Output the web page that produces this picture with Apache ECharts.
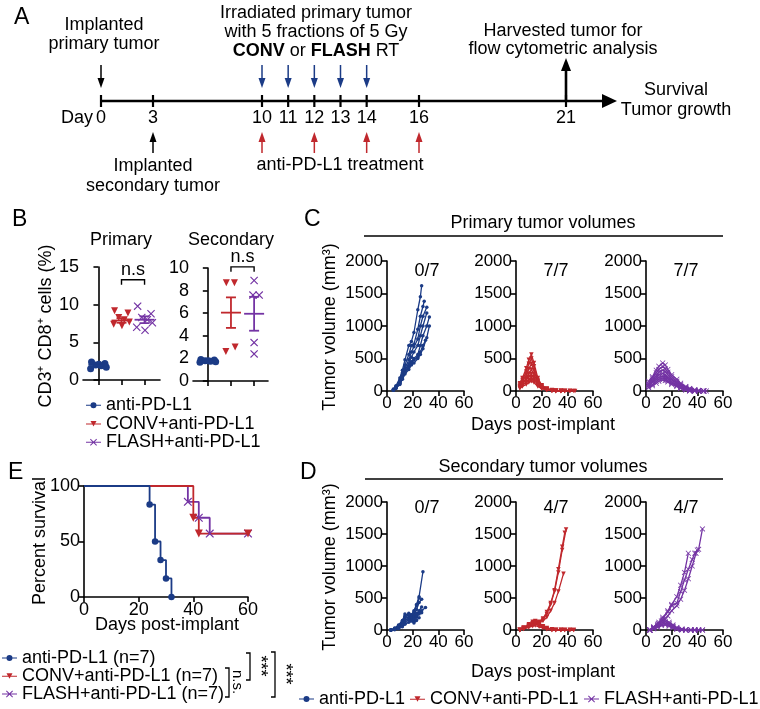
<!DOCTYPE html>
<html>
<head>
<meta charset="utf-8">
<script src="https://cdn.jsdelivr.net/npm/echarts@6/dist/echarts.min.js"></script>
<style>
  html, body { margin: 0; padding: 0; background: #fff; }
  #main { width: 760px; height: 709px; }
</style>
</head>
<body>
<div id="main"></div>
<script>
var FONT = '"Liberation Sans", Arial, Helvetica, sans-serif';
var BLUE = '#1b3b86', RED = '#c0282d', PURPLE = '#7434a4';

// ---- panel A: schedule (days)
var timelineDays = [0, 3, 10, 11, 12, 13, 14, 16, 21];
var primaryImplantDays = [0];
var secondaryImplantDays = [3];
var rtDays = [10, 11, 12, 13, 14];
var pdl1Days = [10, 12, 14, 16];
var harvestDays = [21];

// ---- panel B: CD3+ CD8+ cells (%)
var b1Anti = [2.4, 2.2, 2.0, 1.9, 1.7, 1.5, 2.1];
var b1Conv = [9.2, 8.9, 8.3, 8.0, 7.7, 7.4, 7.2];
var b1Flash = [9.8, 8.8, 8.3, 8.0, 7.6, 7.0, 6.6];
var b1Means = [2.0, 7.9, 8.0];
var b1Sems = [0.12, 0.3, 0.45];
var b2Anti = [1.9, 1.85, 1.8, 1.75, 1.7, 1.65, 1.8];
var b2Conv = [8.7, 8.7, 2.6, 3.0];
var b2Flash = [8.9, 7.6, 7.6, 3.4, 2.4];
var b2Means = [1.75, 6.05, 5.95];
var b2Sems = [0.05, 1.35, 1.5];
var b1Bracket = 13.3, b2Bracket = 10.1;

// ---- panel C: primary tumor volumes, [day, mm3] per mouse
var primAnti = [
  [[5,30],[7,80],[10,200],[12,320],[14,480],[17,700],[19,760],[21,900],[24,1250],[26,1450],[27,1620]],
  [[5,20],[7,60],[10,160],[12,280],[14,400],[17,560],[19,700],[21,720],[24,950],[26,1150],[28,1300],[29,1380]],
  [[5,25],[7,70],[10,150],[12,250],[14,350],[17,480],[19,600],[21,680],[24,800],[26,1000],[28,1150],[31,1290]],
  [[5,15],[7,50],[10,120],[12,220],[14,330],[17,420],[19,520],[21,600],[24,700],[26,850],[28,1000],[31,1200]],
  [[5,20],[7,55],[10,130],[12,200],[14,300],[17,380],[19,450],[21,500],[24,560],[26,700],[28,850],[31,1000],[33,1140]],
  [[5,10],[7,40],[10,100],[12,180],[14,260],[17,330],[19,420],[21,480],[24,520],[26,600],[28,700],[30,780]],
  [[5,15],[7,45],[10,110],[12,190],[14,280],[17,360],[19,400],[21,430],[24,500],[26,560],[28,650],[31,820],[33,1000]]
];
var primConv = [
  [[3,120],[5,200],[8,350],[10,480],[12,560],[14,430],[17,200],[20,90],[24,40],[28,15],[31,5],[35,0]],
  [[3,100],[5,170],[8,300],[10,420],[12,500],[14,380],[17,170],[20,80],[24,30],[28,10],[31,0],[35,0],[38,0]],
  [[3,80],[5,140],[8,250],[10,340],[12,420],[14,320],[17,150],[20,70],[24,30],[28,10],[31,5],[35,0],[38,0],[42,0],[45,0]],
  [[3,60],[5,110],[8,200],[10,270],[12,330],[14,260],[17,130],[20,60],[24,25],[28,10],[31,0]],
  [[3,70],[5,120],[8,180],[10,220],[12,260],[14,210],[17,110],[20,50],[24,20],[28,5],[31,0],[35,0],[38,0],[42,0],[46,0]],
  [[3,50],[5,90],[8,140],[10,170],[12,200],[14,170],[17,90],[20,40],[24,15],[28,5],[31,0],[35,0]],
  [[3,40],[5,70],[8,100],[10,130],[12,150],[14,130],[17,70],[20,35],[24,15],[28,5],[31,0],[35,0],[38,0],[42,0]]
];
var primFlash = [
  [[2,150],[5,220],[8,320],[10,380],[13,430],[15,400],[17,330],[20,250],[24,180],[27,120],[31,70],[34,40],[38,20],[41,10],[45,0]],
  [[2,120],[5,200],[8,280],[10,330],[13,380],[15,340],[17,290],[20,220],[24,150],[27,100],[31,60],[34,30],[38,10],[41,0],[45,0]],
  [[2,100],[5,170],[8,240],[10,290],[13,320],[15,300],[17,250],[20,190],[24,130],[27,80],[31,50],[34,30],[38,15],[41,5],[45,0],[47,0]],
  [[2,90],[5,150],[8,210],[10,250],[13,270],[15,250],[17,210],[20,170],[24,110],[27,70],[31,40],[34,20],[38,5],[41,0]],
  [[2,80],[5,130],[8,180],[10,210],[13,230],[15,220],[17,190],[20,140],[24,90],[27,60],[31,30],[34,10],[38,0],[41,0],[45,0]],
  [[2,60],[5,100],[8,150],[10,180],[13,200],[15,190],[17,160],[20,120],[24,80],[27,50],[31,20],[34,5],[38,0]],
  [[2,50],[5,80],[8,120],[10,150],[13,170],[15,160],[17,140],[20,100],[24,70],[27,40],[31,15],[34,0],[38,0],[41,0],[45,0]]
];

// ---- panel D: secondary tumor volumes
var secAnti = [
  [[3,0],[6,30],[9,80],[12,150],[14,220],[17,260],[19,240],[21,300],[23,400],[25,520],[28,910]],
  [[3,0],[6,20],[9,60],[12,130],[14,200],[17,240],[19,220],[21,280],[23,380],[25,500]],
  [[3,0],[6,25],[9,70],[12,140],[14,250],[17,230],[19,200],[21,240],[23,320],[25,430],[27,480]],
  [[3,0],[6,15],[9,50],[12,110],[14,180],[17,200],[19,170],[21,200],[23,260],[25,280],[27,300],[30,350]],
  [[3,0],[6,10],[9,40],[12,90],[14,150],[17,180],[19,190],[21,130],[23,200],[25,250],[27,270]],
  [[3,0],[6,10],[9,30],[12,70],[14,120],[17,160],[19,150],[21,170],[23,220],[25,300],[27,360]],
  [[3,0],[6,5],[9,20],[12,50],[14,90],[17,120],[19,140],[21,110],[23,150],[25,190]]
];
var secConv = [
  [[3,0],[6,30],[10,70],[13,110],[15,130],[18,120],[21,160],[24,250],[27,400],[30,600],[33,900],[36,1250],[39,1570]],
  [[3,0],[6,20],[10,60],[13,100],[15,110],[18,130],[21,180],[24,280],[27,420],[30,620],[33,950],[36,1300],[38,1520]],
  [[3,0],[6,15],[10,50],[13,80],[15,100],[18,110],[21,140],[24,200],[27,300],[30,420],[33,600],[37,880]],
  [[3,0],[6,40],[10,90],[13,130],[15,140],[18,100],[21,60],[24,30],[28,10],[31,0],[35,0],[38,0],[42,0],[45,0]],
  [[3,0],[6,30],[10,70],[13,100],[15,110],[18,80],[21,50],[24,20],[28,5],[31,0],[35,0],[38,0],[42,0]],
  [[3,0],[6,25],[10,60],[13,80],[15,90],[18,70],[21,40],[24,15],[28,0],[31,0],[35,0],[38,0],[42,0],[45,0]],
  [[3,0],[6,20],[10,40],[13,60],[15,70],[18,50],[21,30],[24,10],[28,0],[31,0],[35,0]]
];
var secFlash = [
  [[3,0],[6,40],[10,100],[13,150],[17,220],[20,300],[24,380],[27,480],[30,620],[33,800],[36,1000],[39,1200],[41,1260],[44,1580]],
  [[3,0],[6,50],[10,120],[13,200],[17,280],[20,380],[24,420],[27,600],[30,780],[33,950],[36,1100],[38,1200],[40,1250]],
  [[3,0],[6,30],[10,90],[13,170],[17,300],[20,400],[24,520],[27,700],[30,900],[33,1200]],
  [[3,0],[6,40],[9,90],[12,140],[15,160],[18,120],[21,80],[24,40],[28,15],[31,5],[35,0],[38,0],[41,0],[44,0]],
  [[3,0],[6,30],[9,70],[12,110],[15,130],[18,100],[21,60],[24,30],[28,10],[31,0],[35,0],[38,0],[41,0]],
  [[3,0],[6,25],[9,60],[12,90],[15,100],[18,80],[21,50],[24,20],[28,5],[31,0],[35,0],[38,0],[41,0],[44,0]],
  [[3,0],[6,20],[9,40],[12,70],[15,80],[18,60],[21,30],[24,10],[28,0],[31,0],[35,0],[38,0]]
];
var tumorFree = { primary: ['0/7', '7/7', '7/7'], secondary: ['0/7', '4/7', '4/7'] };

// ---- panel E: survival (%)
var survAnti = [[0,100],[24,83.3],[26,50],[28,33.3],[30,16.7],[32,0]];
var survConv = [[0,100],[40,71.4],[42,57.1],[60,57.1]];
var survFlash = [[0,100],[38,85.7],[42,71.4],[46,57.1],[60,57.1]];

var groupNames = ['anti-PD-L1', 'CONV+anti-PD-L1', 'FLASH+anti-PD-L1'];
var survNames = ['anti-PD-L1 (n=7)', 'CONV+anti-PD-L1 (n=7)', 'FLASH+anti-PD-L1 (n=7)'];
var colors = [BLUE, RED, PURPLE];

// ---------- layout helpers
// the schedule drawing is not to scale: piecewise map of day -> drawing units
var schematicBreaks = [[0,0],[3,52],[10,161],[16,318],[21,465]];
function toSchematic(d) {
  for (var i = 1; i < schematicBreaks.length; i++) {
    var a = schematicBreaks[i-1], b = schematicBreaks[i];
    if (d <= b[0]) return a[1] + (d - a[0]) * (b[1] - a[1]) / (b[0] - a[0]);
  }
  return schematicBreaks[schematicBreaks.length-1][1];
}
var jitB1 = [-0.3, 0.28, -0.12, 0.12, 0.34, -0.34, 0.02];
var jitB2 = [-0.2, 0.15, -0.22, 0.18, 0.05, -0.05, 0.1];
var jitB2f = [0, -0.05, 0.22, 0, 0];

var XSYM = 'path://M0,1L1,0L5,4L9,0L10,1L6,5L10,9L9,10L5,6L1,10L0,9L4,5Z';
var icons = [
  'path://M0,4H15V5H0Z M7.5,1.5A3,3 0 1 1 7.49,1.5Z',
  'path://M0,4H15V5H0Z M4.5,1.5H10.5L7.5,7Z',
  'path://M0,4H15V5H0Z M4,1.7L4.7,1L7.5,3.8L10.3,1L11,1.7L8.2,4.5L11,7.3L10.3,8L7.5,5.2L4.7,8L4,7.3L6.8,4.5Z'
];
var symbols = ['circle', 'triangle', XSYM];
var symRot = [0, 180, 0];

function font(size, weight) { return (weight ? weight + ' ' : '') + size + 'px ' + FONT; }
function txt(x, y, text, size, opts) {
  opts = opts || {};
  return {
    type: 'text', x: x, y: y, rotation: opts.rot || 0, silent: true,
    style: {
      text: text, fill: '#000', font: font(size, opts.weight),
      align: opts.align || 'center', verticalAlign: opts.va || 'middle',
      lineHeight: opts.lh, rich: opts.rich
    }
  };
}
function line(x1, y1, x2, y2, w) {
  return { type: 'line', silent: true, shape: { x1: x1, y1: y1, x2: x2, y2: y2 }, style: { stroke: '#000', lineWidth: w || 1.5 } };
}
function polyline(pts, w) {
  return { type: 'polyline', silent: true, shape: { points: pts }, style: { stroke: '#000', lineWidth: w || 1.5, fill: null } };
}

var axisLineStyle = { show: true, lineStyle: { color: '#000', width: 1.6 } };
function valAxis(grid, min, max, interval, labelSize, showLabel) {
  return {
    type: 'value', gridIndex: grid, min: min, max: max, interval: interval,
    axisLine: axisLineStyle,
    axisTick: { show: true, length: 5, lineStyle: { color: '#000', width: 1.6 } },
    axisLabel: { show: showLabel !== false, color: '#000', fontSize: labelSize, fontFamily: FONT, margin: 4,
      formatter: function (v) { return String(v); } },
    splitLine: { show: false }
  };
}

var grids = [
  { left: 101, top: 51, width: 516, height: 100 },   // 0 A
  { left: 83, top: 267, width: 77, height: 113 },    // 1 B primary
  { left: 193, top: 268, width: 75, height: 113 },   // 2 B secondary
  { left: 387, top: 261, width: 77, height: 130 },   // 3 C
  { left: 516, top: 261, width: 77, height: 130 },   // 4
  { left: 646, top: 261, width: 77, height: 130 },   // 5
  { left: 387, top: 502, width: 77, height: 128 },   // 6 D
  { left: 516, top: 502, width: 77, height: 128 },   // 7
  { left: 646, top: 502, width: 77, height: 128 },   // 8
  { left: 84, top: 486, width: 164, height: 111 }    // 9 E
];

var xAxes = [
  { type: 'value', gridIndex: 0, min: 0, max: 516, show: false },
  { type: 'value', gridIndex: 1, min: -0.67, max: 2.67, axisLine: axisLineStyle,
    axisTick: { show: true, customValues: [0, 1, 2], length: 5, lineStyle: { color: '#000', width: 1.6 } },
    axisLabel: { show: false }, splitLine: { show: false } },
  { type: 'value', gridIndex: 2, min: -0.64, max: 2.6, axisLine: axisLineStyle,
    axisTick: { show: true, customValues: [0, 1, 2], length: 5, lineStyle: { color: '#000', width: 1.6 } },
    axisLabel: { show: false }, splitLine: { show: false } }
];
var yAxes = [
  { type: 'value', gridIndex: 0, min: -50, max: 50, show: false },
  valAxis(1, 0, 15, 5, 18),
  valAxis(2, 0, 10, 2, 18)
];
for (var g = 3; g <= 8; g++) {
  xAxes.push(valAxis(g, 0, 60, 20, 17));
  yAxes.push(valAxis(g, 0, 2000, 500, 17));
}
xAxes.push(valAxis(9, 0, 60, 20, 18));
yAxes.push(valAxis(9, 0, 100, 50, 18));

var series = [];

// ---------- panel A
series.push({
  type: 'custom', xAxisIndex: 0, yAxisIndex: 0, silent: true, data: [[0]],
  renderItem: function (params, api) {
    var p = api.coord([api.value(0), 0]);
    var xEnd = params.coordSys.x + params.coordSys.width;
    return { type: 'group', children: [
      { type: 'line', shape: { x1: p[0], y1: p[1], x2: xEnd - 12, y2: p[1] }, style: { stroke: '#000', lineWidth: 2.6 } },
      { type: 'polygon', shape: { points: [[xEnd - 15, p[1] - 7], [xEnd, p[1]], [xEnd - 15, p[1] + 7]] }, style: { fill: '#000' } }
    ] };
  }
});
series.push({
  type: 'custom', xAxisIndex: 0, yAxisIndex: 0, silent: true,
  data: timelineDays.map(function (d) { return [toSchematic(d), d]; }),
  renderItem: function (params, api) {
    var p = api.coord([api.value(0), 0]);
    return { type: 'group', children: [
      { type: 'line', shape: { x1: p[0], y1: p[1] - 6, x2: p[0], y2: p[1] + 6 }, style: { stroke: '#000', lineWidth: 2.2 } },
      { type: 'text', style: { text: String(api.value(1)), x: p[0], y: p[1] + 17, fill: '#000', font: font(18), align: 'center', verticalAlign: 'middle' } }
    ] };
  }
});
function arrowSeries(days, color, from, to, lw, headLen, headW) {
  return {
    type: 'custom', xAxisIndex: 0, yAxisIndex: 0, silent: true,
    data: days.map(function (d) { return [toSchematic(d)]; }),
    renderItem: function (params, api) {
      var p = api.coord([api.value(0), 0]);
      var y1 = p[1] + from, y2 = p[1] + to;
      var dir = y2 > y1 ? 1 : -1;
      var yb = y2 - dir * headLen;
      return { type: 'group', children: [
        { type: 'line', shape: { x1: p[0], y1: y1, x2: p[0], y2: yb }, style: { stroke: color, lineWidth: lw } },
        { type: 'polygon', shape: { points: [[p[0] - headW / 2, yb], [p[0] + headW / 2, yb], [p[0], y2]] }, style: { fill: color } }
      ] };
    }
  };
}
series.push(arrowSeries(primaryImplantDays, '#000', -36, -13, 1.5, 10, 7));
series.push(arrowSeries(rtDays, BLUE, -36, -13, 1.5, 10, 7));
series.push(arrowSeries(secondaryImplantDays, '#000', 52, 31, 1.5, 10, 7));
series.push(arrowSeries(pdl1Days, RED, 52, 31, 1.5, 10, 7));
series.push(arrowSeries(harvestDays, '#000', 0, -43, 2.6, 13, 10));

// ---------- panel B
function scatterB(grid, vals, jit, k) {
  return {
    type: 'scatter', name: groupNames[k], xAxisIndex: grid, yAxisIndex: grid, silent: true,
    symbol: symbols[k], symbolRotate: symRot[k], symbolSize: [7, 7, 8][k],
    itemStyle: { color: colors[k], opacity: 1 },
    data: vals.map(function (v, i) { return [k + jit[i % jit.length], v]; })
  };
}
function meanSem(grid, means, sems) {
  return {
    type: 'custom', xAxisIndex: grid, yAxisIndex: grid, silent: true, z: 5,
    data: means.map(function (m, i) { return [i, m, sems[i]]; }),
    renderItem: function (params, api) {
      var i = api.value(0), m = api.value(1), s = api.value(2);
      var c = api.coord([i, m]), hi = api.coord([i, m + s]), lo = api.coord([i, m - s]);
      var st = { stroke: colors[i], lineWidth: 1.8 };
      return { type: 'group', children: [
        { type: 'line', shape: { x1: c[0] - 10, y1: c[1], x2: c[0] + 10, y2: c[1] }, style: st },
        { type: 'line', shape: { x1: c[0], y1: hi[1], x2: c[0], y2: lo[1] }, style: st },
        { type: 'line', shape: { x1: c[0] - 5, y1: hi[1], x2: c[0] + 5, y2: hi[1] }, style: st },
        { type: 'line', shape: { x1: c[0] - 5, y1: lo[1], x2: c[0] + 5, y2: lo[1] }, style: st }
      ] };
    }
  };
}
function bracket(grid, yv) {
  return {
    type: 'custom', xAxisIndex: grid, yAxisIndex: grid, silent: true, clip: false,
    data: [[1, 2, yv]],
    renderItem: function (params, api) {
      var a = api.coord([api.value(0), api.value(2)]), b = api.coord([api.value(1), api.value(2)]);
      return { type: 'group', children: [
        { type: 'polyline', shape: { points: [[a[0], a[1] + 5], [a[0], a[1]], [b[0], a[1]], [b[0], a[1] + 5]] }, style: { stroke: '#000', lineWidth: 1.4, fill: null } },
        { type: 'text', style: { text: 'n.s', x: (a[0] + b[0]) / 2, y: a[1] - 1, fill: '#000', font: font(18), align: 'center', verticalAlign: 'bottom' } }
      ] };
    }
  };
}
series.push(scatterB(1, b1Anti, jitB1, 0), scatterB(1, b1Conv, jitB1, 1), scatterB(1, b1Flash, jitB1, 2));
series.push(meanSem(1, b1Means, b1Sems), bracket(1, b1Bracket));
series.push(scatterB(2, b2Anti, jitB1, 0), scatterB(2, b2Conv, jitB2, 1), scatterB(2, b2Flash, jitB2f, 2));
series.push(meanSem(2, b2Means, b2Sems), bracket(2, b2Bracket));

// ---------- panels C, D
function mouseLines(grid, mice, k) {
  mice.forEach(function (m) {
    series.push({
      type: 'line', name: groupNames[k], xAxisIndex: grid, yAxisIndex: grid, silent: true,
      data: m, showSymbol: true, showAllSymbol: true,
      symbol: symbols[k], symbolRotate: symRot[k], symbolSize: [3.5, 4.5, 5.5][k],
      lineStyle: { color: colors[k], width: 1.3 }, itemStyle: { color: colors[k] }
    });
  });
}
mouseLines(3, primAnti, 0); mouseLines(4, primConv, 1); mouseLines(5, primFlash, 2);
mouseLines(6, secAnti, 0); mouseLines(7, secConv, 1); mouseLines(8, secFlash, 2);

// ---------- panel E (drawn purple, red, blue so blue sits on top)
[[survFlash, 2], [survConv, 1], [survAnti, 0]].forEach(function (s) {
  var k = s[1];
  series.push({
    type: 'line', name: survNames[k], xAxisIndex: 9, yAxisIndex: 9, silent: true, step: 'end',
    data: s[0].map(function (p, i) { return i === 0 ? { value: p, symbol: 'none' } : p; }),
    showSymbol: true, showAllSymbol: true,
    symbol: symbols[k], symbolRotate: symRot[k], symbolSize: [6.5, 8, 8.5][k],
    lineStyle: { color: colors[k], width: 1.8 }, itemStyle: { color: colors[k] }
  });
});

// ---------- legends
function legendData(names) {
  return names.map(function (n, i) { return { name: n, icon: icons[i] }; });
}
var legendText = { color: '#000', fontSize: 18, fontFamily: FONT };
function legendBox(extra, names, lh) {
  return Object.assign({ padding: 0, itemGap: 0, itemWidth: 15, itemHeight: 9, selectedMode: false,
    textStyle: Object.assign({ lineHeight: lh }, legendText) }, extra, { data: names });
}
var legends = [
  legendBox({ orient: 'vertical', left: 86, top: 396 }, legendData(groupNames), 18.5),
  legendBox({ orient: 'vertical', left: 2, top: 649 }, legendData(survNames), 17)
];
// bottom legend of D, one box per item laid out in a row
var legendDLeft = [299, 410, 584];
legendData(groupNames).forEach(function (item, i) {
  legends.push(legendBox({ orient: 'horizontal', left: legendDLeft[i], top: 690 }, [item], 18));
});

// ---------- text annotations
var graphics = [
  txt(14, 18, 'A', 23, { align: 'left' }),
  txt(12, 220, 'B', 23, { align: 'left' }),
  txt(304, 220, 'C', 23, { align: 'left' }),
  txt(300, 473, 'D', 23, { align: 'left' }),
  txt(8, 473, 'E', 23, { align: 'left' }),

  txt(104, 35, 'Implanted\nprimary tumor', 18, { lh: 19 }),
  txt(316, 32, '{n|Irradiated primary tumor}\n{n|with 5 fractions of 5 Gy}\n{b|CONV}{n| or }{b|FLASH}{n| RT}', 18, {
    rich: { n: { fontSize: 18, fontFamily: FONT, lineHeight: 19 }, b: { fontSize: 18, fontFamily: FONT, fontWeight: 'bold', lineHeight: 19 } } }),
  txt(563, 40, 'Harvested tumor for\nflow cytometric analysis', 18, { lh: 18 }),
  txt(676, 100, 'Survival\nTumor growth', 18, { lh: 20 }),
  txt(93, 118, 'Day', 18, { align: 'right' }),
  txt(153, 176, 'Implanted\nsecondary tumor', 18, { lh: 20 }),
  txt(340, 165, 'anti-PD-L1 treatment', 18),

  txt(121, 240, 'Primary', 18),
  txt(231, 240, 'Secondary', 18),
  txt(46, 326, 'CD3\u207A CD8\u207A cells (%)', 18, { rot: Math.PI / 2 }),

  txt(543, 223, 'Primary tumor volumes', 18),
  line(364, 236, 723, 236, 1.6),
  txt(543, 467, 'Secondary tumor volumes', 18),
  line(365, 479, 723, 479, 1.6),
  txt(330, 327, 'Tumor volume (mm\u00B3)', 18, { rot: Math.PI / 2 }),
  txt(330, 567, 'Tumor volume (mm\u00B3)', 18, { rot: Math.PI / 2 }),
  txt(543, 425, 'Days post-implant', 18),
  txt(543, 672, 'Days post-implant', 18),

  txt(40, 541, 'Percent survival', 18, { rot: Math.PI / 2 }),
  txt(167, 625, 'Days post-implant', 18),

  // significance brackets for survival
  polyline([[225, 668], [229, 668], [229, 697], [225, 697]], 1.3),
  txt(237, 682, 'n.s.', 15, { rot: -Math.PI / 2 }),
  polyline([[246, 653], [250, 653], [250, 680], [246, 680]], 1.3),
  txt(260, 666, '***', 18, { rot: -Math.PI / 2 }),
  polyline([[271, 652], [275, 652], [275, 697], [271, 697]], 1.3),
  txt(285, 674, '***', 18, { rot: -Math.PI / 2 })
];
[grids[3], grids[4], grids[5]].forEach(function (gr, i) {
  graphics.push(txt(gr.left + 40, 271, tumorFree.primary[i], 18));
});
[grids[6], grids[7], grids[8]].forEach(function (gr, i) {
  graphics.push(txt(gr.left + 40, 508, tumorFree.secondary[i], 18));
});

var chart = echarts.init(document.getElementById('main'));
chart.setOption({
  animation: false,
  backgroundColor: '#fff',
  textStyle: { fontFamily: FONT },
  grid: grids,
  xAxis: xAxes,
  yAxis: yAxes,
  legend: legends,
  series: series,
  graphic: graphics
});
</script>
</body>
</html>
